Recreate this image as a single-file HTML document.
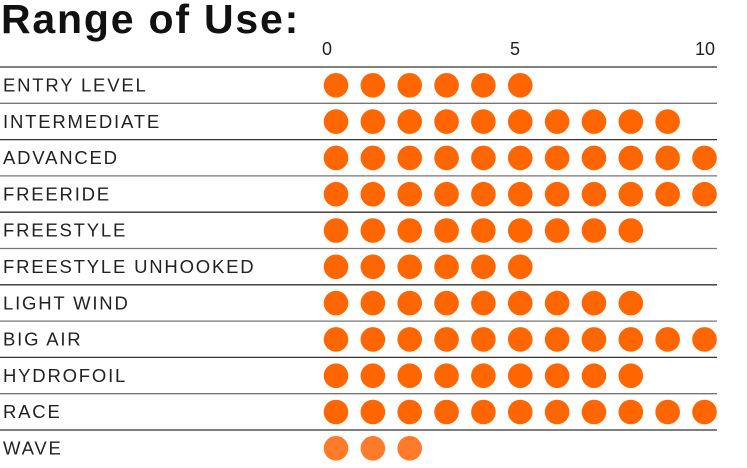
<!DOCTYPE html>
<html><head><meta charset="utf-8"><style>
html,body{margin:0;padding:0;background:#fff;width:747px;height:468px;overflow:hidden}
svg{display:block}
text{font-family:"Liberation Sans",sans-serif}
</style></head><body>
<svg width="747" height="468" xmlns="http://www.w3.org/2000/svg">
<defs>
<g id="c3"><circle cx="336" cy="0" r="12.3"/><circle cx="372.85" cy="0" r="12.3"/><circle cx="409.7" cy="0" r="12.3"/></g>
<g id="c6"><use href="#c3"/><circle cx="446.55" cy="0" r="12.3"/><circle cx="483.4" cy="0" r="12.3"/><circle cx="520.25" cy="0" r="12.3"/></g>
<g id="c9"><use href="#c6"/><circle cx="557.1" cy="0" r="12.3"/><circle cx="593.95" cy="0" r="12.3"/><circle cx="630.8" cy="0" r="12.3"/></g>
<g id="c10"><use href="#c9"/><circle cx="667.65" cy="0" r="12.3"/></g>
<g id="c11"><use href="#c10"/><circle cx="704.5" cy="0" r="12.3"/></g>
</defs>
<text x="1" y="33" font-size="41" font-weight="bold" fill="#111" letter-spacing="1.8">Range of Use:</text>
<g font-size="18" fill="#222" text-anchor="middle">
<text x="327" y="55">0</text><text x="515" y="55">5</text><text x="705" y="55">10</text>
</g>
<g stroke-width="1.3">
<line x1="0" x2="717" y1="67" y2="67" stroke="#333"/>
<line x1="0" x2="717" y1="103.3" y2="103.3" stroke="#777"/>
<line x1="0" x2="717" y1="139.6" y2="139.6" stroke="#333"/>
<line x1="0" x2="717" y1="175.9" y2="175.9" stroke="#777"/>
<line x1="0" x2="717" y1="212.2" y2="212.2" stroke="#333"/>
<line x1="0" x2="717" y1="248.5" y2="248.5" stroke="#777"/>
<line x1="0" x2="717" y1="284.8" y2="284.8" stroke="#333"/>
<line x1="0" x2="717" y1="321.1" y2="321.1" stroke="#777"/>
<line x1="0" x2="717" y1="357.4" y2="357.4" stroke="#333"/>
<line x1="0" x2="717" y1="393.7" y2="393.7" stroke="#777"/>
<line x1="0" x2="717" y1="430" y2="430" stroke="#333"/>
</g>
<g font-size="18.5" fill="#222" letter-spacing="1.8">
<text x="3" y="91.5">ENTRY LEVEL</text>
<text x="3" y="127.8">INTERMEDIATE</text>
<text x="3" y="164.1">ADVANCED</text>
<text x="3" y="200.4">FREERIDE</text>
<text x="3" y="236.7">FREESTYLE</text>
<text x="3" y="273">FREESTYLE UNHOOKED</text>
<text x="3" y="309.3">LIGHT WIND</text>
<text x="3" y="345.6">BIG AIR</text>
<text x="3" y="381.9">HYDROFOIL</text>
<text x="3" y="418.2">RACE</text>
<text x="3" y="454.5">WAVE</text>
</g>
<g fill="#ff6600">
<use href="#c6" y="85.3"/>
<use href="#c10" y="121.6"/>
<use href="#c11" y="157.9"/>
<use href="#c11" y="194.2"/>
<use href="#c9" y="230.5"/>
<use href="#c6" y="266.8"/>
<use href="#c9" y="303.1"/>
<use href="#c11" y="339.4"/>
<use href="#c9" y="375.7"/>
<use href="#c11" y="412"/>
</g>
<use href="#c3" y="448.3" fill="#ff7a2a"/>
</svg>
</body></html>
